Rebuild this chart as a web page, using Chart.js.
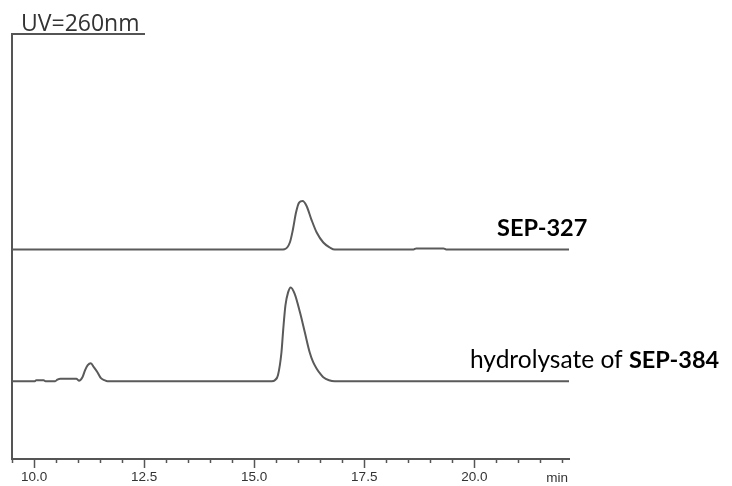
<!DOCTYPE html>
<html>
<head>
<meta charset="utf-8">
<script src="https://cdn.jsdelivr.net/npm/chart.js@4"></script>
<style>
  html, body { margin: 0; background: #fff; }
  #wrap { width: 732px; height: 486px; }
</style>
</head>
<body>
<div id="wrap"><canvas id="chart"></canvas></div>
<script>
// --- DATA ---
const xMin = 9.5, xMax = 22.15;
const yMin = 0, yMax = 426;
const majorTicks = [10.0, 12.5, 15.0, 17.5, 20.0];
const axisUnit = 'min';
const detector = 'UV=260nm';

// upper trace: SEP-327
const timeSep327 = [9.5, 15.60, 15.69, 15.81, 15.88, 15.95, 16.02, 16.10, 16.19, 16.30, 16.42, 16.57, 16.72, 16.83, 18.62, 18.68, 19.30, 19.36, 22.15];
const absSep327  = [210, 210,   210.3, 217,   230,   247,   257,   258.6, 253.6, 240,   227,   217,   212,   210,   210,   211,   211,   210,   210];

// lower trace: hydrolysate of SEP-384
const timeHyd384 = [9.5, 10.02, 10.05, 10.22, 10.26, 10.48, 10.53, 10.60, 10.96, 11.02, 11.10, 11.16, 11.22, 11.29, 11.36, 11.44, 11.52, 11.60, 11.67,
                    15.40, 15.47, 15.54, 15.62, 15.66, 15.71, 15.77, 15.83, 15.92, 16.04, 16.15, 16.26, 16.34, 16.42, 16.50, 16.57, 16.70, 16.83, 22.15];
const absHyd384  = [78, 78, 79, 79, 78, 78, 79.5, 80.5, 80.5, 78.5, 82, 89, 94, 96, 92, 87, 81, 79, 78,
                    78, 79, 84, 107, 130, 154, 167, 172, 165.5, 147, 127, 107, 97, 90.5, 85.5, 82, 79, 78, 78];

const labelSep327 = { bold: 'SEP-327', plain: '' };
const labelHyd384 = { bold: 'SEP-384', plain: 'hydrolysate of ' };

const toPoints = (xs, ys) => xs.map((t, i) => ({ x: t, y: ys[i] }));
const isMajor = v => majorTicks.some(m => Math.abs(m - v) < 1e-6);

// --- DECORATIONS: minor/major ticks, unit, detector title, trace labels ---
const decor = {
  id: 'decor',
  afterDraw(chart) {
    const { ctx, scales: { x, y } } = chart;
    ctx.save();

    // tick marks
    ctx.strokeStyle = '#555';
    ctx.lineWidth = 1.5;
    x.ticks.forEach(t => {
      const px = Math.round(x.getPixelForValue(t.value)) + 0.5;
      const len = isMajor(t.value) ? 9 : 4;
      ctx.beginPath();
      ctx.moveTo(px, x.top);
      ctx.lineTo(px, x.top + len);
      ctx.stroke();
    });

    // unit
    ctx.font = '13.5px "Liberation Sans", Arial, sans-serif';
    ctx.fillStyle = '#333';
    ctx.textAlign = 'right';
    ctx.textBaseline = 'alphabetic';
    ctx.fillText(axisUnit, x.right - 1, 482);

    // detector title with underline
    ctx.font = '23px "Open Sans", sans-serif';
    ctx.textAlign = 'left';
    ctx.fillStyle = '#333';
    ctx.fillText(detector, 21, 31);
    ctx.strokeStyle = '#555';
    ctx.lineWidth = 2;
    ctx.beginPath();
    ctx.moveTo(x.left - 1, y.top);
    ctx.lineTo(145, y.top);
    ctx.stroke();

    // trace labels
    const drawLabel = (lab, left, baseY) => {
      ctx.fillStyle = '#000';
      let cx = left;
      if (lab.plain) {
        ctx.font = '24.5px Lato, sans-serif';
        ctx.fillText(lab.plain, cx, baseY);
        cx += ctx.measureText(lab.plain).width;
      }
      ctx.font = 'bold 23.5px Lato, sans-serif';
      ctx.fillText(lab.bold, cx, baseY);
    };
    drawLabel(labelSep327, 497, y.getPixelForValue(absSep327[absSep327.length - 1]) - 13);
    drawLabel(labelHyd384, 470, y.getPixelForValue(absHyd384[absHyd384.length - 1]) - 13);

    ctx.restore();
  }
};

const traceStyle = {
  borderColor: '#5a5a5a',
  borderWidth: 2,
  pointRadius: 0,
  fill: false,
  cubicInterpolationMode: 'monotone'
};

new Chart(document.getElementById('chart'), {
  type: 'line',
  data: {
    datasets: [
      { label: 'SEP-327', data: toPoints(timeSep327, absSep327), ...traceStyle },
      { label: 'hydrolysate of SEP-384', data: toPoints(timeHyd384, absHyd384), ...traceStyle }
    ]
  },
  options: {
    responsive: true,
    maintainAspectRatio: false,
    animation: false,
    layout: { padding: { left: 12, right: 163, top: 34, bottom: 0 } },
    plugins: { legend: { display: false }, tooltip: { enabled: false } },
    scales: {
      x: {
        type: 'linear',
        min: xMin, max: xMax,
        bounds: 'data',
        grid: { display: false, drawTicks: false },
        border: { display: true, color: '#555', width: 2 },
        ticks: {
          stepSize: 0.5,
          includeBounds: false,
          autoSkip: false,
          maxRotation: 0,
          padding: 10,
          color: '#333',
          font: { family: '"Liberation Sans", Arial, sans-serif', size: 13.5 },
          callback: v => isMajor(v) ? v.toFixed(1) : ''
        },
        afterFit: s => { s.height = 27; }
      },
      y: {
        min: yMin, max: yMax,
        grid: { display: false, drawTicks: false },
        border: { display: true, color: '#555', width: 2 },
        ticks: { display: false },
        afterFit: s => { s.width = 0; }
      }
    }
  },
  plugins: [decor]
});
</script>
</body>
</html>
